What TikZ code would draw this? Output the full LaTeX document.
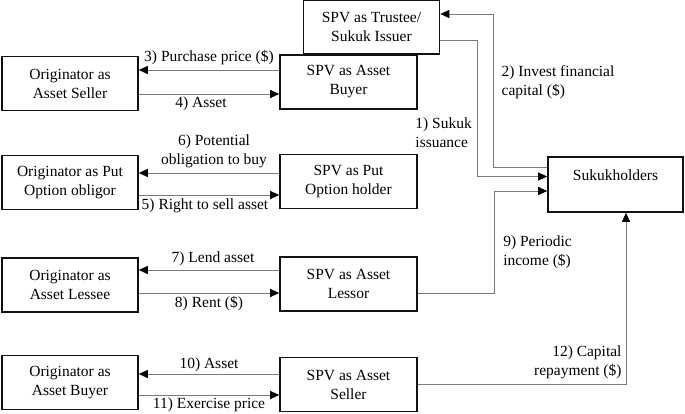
\documentclass[tikz,border=0pt]{standalone}
\usepackage{fontspec}
\setmainfont{Liberation Serif}
\usepackage{xcolor}
\usepackage{tikz}
\usetikzlibrary{arrows.meta,positioning}
\definecolor{boxblack}{HTML}{111111}
\definecolor{wiregray}{HTML}{7A7A7A}
\tikzset{
  partybox/.style={draw=boxblack,line width=1.6pt,minimum width=136pt,minimum height=54pt,inner sep=2pt,align=center,font=\fontsize{15.5}{19}\selectfont},
  flowarrow/.style={-{Triangle[length=9pt,width=8pt,color=black,fill=black]},draw=wiregray,line width=0.9pt},
  flowlabel/.style={font=\fontsize{15.5}{19}\selectfont,inner sep=2pt,text=black},
}
\begin{document}
\begin{tikzpicture}[x=1pt,y=-1pt]
  \useasboundingbox (0,0) rectangle (685,413);
  % SPV side
  \node[partybox] (trustee) at (371.5,27) {SPV as Trustee/\\Sukuk Issuer};
  \node[partybox,minimum width=137pt] (buyer) at (348.5,82) {SPV as Asset\\Buyer};
  \node[partybox,minimum width=137pt] (holder) at (348.5,181.5) {SPV as Put\\Option holder};
  \node[partybox,minimum width=137pt] (lessor) at (348.5,284) {SPV as Asset\\Lessor};
  \node[partybox,minimum width=137pt] (sseller) at (348.5,384.5) {SPV as Asset\\Seller};
  % originator side
  \node[partybox] (seller) at (70,83.5) {Originator as\\Asset Seller};
  \node[partybox] (obligor) at (70,182.5) {Originator as Put\\Option obligor};
  \node[partybox] (lessee) at (70,285) {Originator as\\Asset Lessee};
  \node[partybox] (obuyer) at (70,382.5) {Originator as\\Asset Buyer};
  % investors
  \node[partybox,minimum width=135pt,minimum height=55pt] (sukuk) at (615.5,184.5) {Sukukholders\\\mbox{}};

  \draw[flowarrow] ([yshift=12pt]buyer.west) coordinate (p3) -- (p3 -| seller.east) node[flowlabel,midway,above=3pt]{3) Purchase price (\$)};
  \draw[flowarrow] ([yshift=-12pt]seller.east |- buyer.west) coordinate (p4) -- (p4 -| buyer.west) node[flowlabel,midway,below=0.5pt,xshift=-8pt]{4) Asset};
  \draw[flowarrow] ([yshift=8.5pt]holder.west) coordinate (p6) -- (p6 -| obligor.east) node[flowlabel,midway,above=2.5pt,align=center,xshift=5pt]{6) Potential\\obligation to buy};
  \draw[flowarrow] ([yshift=-13.5pt]obligor.east |- holder.west) coordinate (p5) -- (p5 -| holder.west) node[flowlabel,midway,below=1pt,xshift=-4pt]{5) Right to sell asset};
  \draw[flowarrow] ([yshift=14pt]lessor.west) coordinate (p7) -- (p7 -| lessee.east) node[flowlabel,midway,above=1.5pt,xshift=4pt]{7) Lend asset};
  \draw[flowarrow] ([yshift=-9pt]lessee.east |- lessor.west) coordinate (p8) -- (p8 -| lessor.west) node[flowlabel,midway,below=0.5pt]{8) Rent (\$)};
  \draw[flowarrow] ([yshift=10.5pt]sseller.west) coordinate (p10) -- (p10 -| obuyer.east) node[flowlabel,midway,above=0pt]{10) Asset};
  \draw[flowarrow] ([yshift=-10.5pt]obuyer.east |- sseller.west) coordinate (p11) -- (p11 -| sseller.west) node[flowlabel,midway,below=0.5pt]{11) Exercise price};

  \draw[flowarrow] ([yshift=-13pt]trustee.east) -- ++(37,0) |- node[flowlabel,pos=0.34,left=3pt,align=left]{1) Sukuk\\issuance} ([yshift=8pt]sukuk.west);
  \draw[flowarrow] ([yshift=17.5pt]sukuk.west) -- ++(-54,0) |- node[flowlabel,pos=0.276,right=6pt,align=left]{2) Invest financial\\capital (\$)} ([yshift=13pt]trustee.east);
  \draw[flowarrow] ([yshift=-9pt]lessor.east) -- ++(77,0) |- node[flowlabel,pos=0.2,right=6pt,align=left]{9) Periodic\\income (\$)} ([yshift=-6.5pt]sukuk.west);
  \draw[flowarrow] (sseller.east) -| node[flowlabel,pos=0.564,left=2pt,align=right]{12) Capital\\repayment (\$)} ([xshift=10.5pt]sukuk.south);
\end{tikzpicture}
\end{document}
